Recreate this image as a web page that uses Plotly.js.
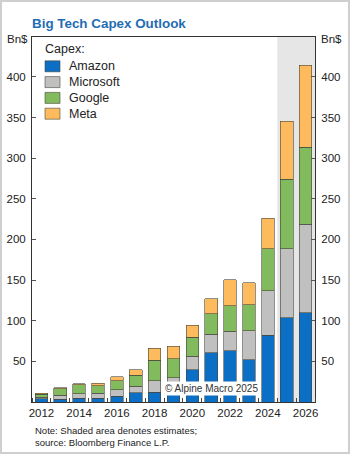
<!DOCTYPE html>
<html>
<head>
<meta charset="utf-8">
<script src="https://cdn.plot.ly/plotly-3.0.1.min.js"></script>
<style>
html,body{margin:0;padding:0;background:#fff;}
#wrap{position:relative;width:350px;height:454px;}
#chart{position:absolute;left:0;top:0;width:350px;height:454px;}
#frame{position:absolute;left:0;top:0;width:350px;height:454px;box-sizing:border-box;border:2px solid #cfcfcf;pointer-events:none;}
</style>
</head>
<body>
<div id="wrap"><div id="chart"></div><div id="frame"></div></div>
<script>
const years = [2012,2013,2014,2015,2016,2017,2018,2019,2020,2021,2022,2023,2024,2025,2026];
const amazon    = [3.8, 3.5, 4.9, 4.6, 7.0, 11.3, 12.3, 16.0, 39.5, 60.5, 63.0, 52.0, 82.3, 103.7, 109.5];
const microsoft = [2.3, 4.9, 5.1, 6.3, 8.2, 8.0, 14.0, 13.6, 16.9, 23.1, 24.3, 35.4, 54.7, 84.8, 109.0];
const google    = [3.6, 7.9, 11.1, 9.2, 11.1, 13.7, 25.2, 23.8, 23.0, 24.7, 30.8, 32.1, 51.5, 85.5, 94.7];
const meta      = [1.2, 1.1, 1.6, 3.2, 5.0, 6.9, 14.8, 15.3, 15.3, 18.5, 32.1, 27.1, 37.4, 71.6, 101.2];
const seriesNames = ['Amazon','Microsoft','Google','Meta'];
const seriesColors = ['#0b6fc6','#c0c0c0','#82ba5e','#fdbb5e'];
const xTickVals = [2012,2014,2016,2018,2020,2022,2024,2026];
const yTickVals = [50,100,150,200,250,300,350,400];
const estimateStart = 2024.5, estimateEnd = 2026.5;

const W = 350, H = 454, ML = 32, MR = 35, MT = 37, MB = 52;
const PW = W - ML - MR, PH = H - MT - MB;
const px2x = p => (p - ML) / PW;
const py2y = p => (H - MB - p) / PH;

const outline = 'rgba(70,70,60,0.75)';
const values = [amazon, microsoft, google, meta];
const traces = values.map((v,i)=>({
  type:'bar', x: years, y: v, name: seriesNames[i],
  marker:{color: seriesColors[i], line:{color:outline, width:0.8}},
  hoverinfo:'x+y+name', showlegend:false
}));
traces.push({type:'scatter', x:[years[0]], y:[0], yaxis:'y2', mode:'markers', marker:{opacity:0}, showlegend:false, hoverinfo:'skip'});

const txtFont = 'Arial, "Liberation Sans", sans-serif';

const legendShapes = [], legendAnns = [];
legendAnns.push({text:'Capex:', xref:'paper', yref:'paper', x:px2x(43), y:py2y(48.5), xanchor:'left', yanchor:'middle', showarrow:false, font:{family:txtFont, size:12.5, color:'#222'}});
seriesNames.forEach((n,i)=>{
  const top = 60.8 + i*15.8;
  legendShapes.push({type:'rect', xref:'paper', yref:'paper', x0:px2x(45), x1:px2x(60), y0:py2y(top+11), y1:py2y(top), fillcolor:seriesColors[i], line:{color:outline, width:0.8}, layer:'above'});
  legendAnns.push({text:n, xref:'paper', yref:'paper', x:px2x(66.5), y:py2y(top+5.5), xanchor:'left', yanchor:'middle', showarrow:false, font:{family:txtFont, size:12.5, color:'#222'}});
});

const layout = {
  width:W, height:H,
  margin:{l:ML, r:MR, t:MT, b:MB},
  paper_bgcolor:'#fff', plot_bgcolor:'rgba(0,0,0,0)',
  font:{family:txtFont, size:11.5, color:'#222'},
  barmode:'stack', bargap:0.33,
  showlegend:false,
  title:{
    text:'<b>Big Tech Capex Outlook</b>',
    font:{family:txtFont, size:13.4, color:'#1f6db3'},
    x:32/W, xanchor:'left', xref:'container',
    y:1-23/H, yanchor:'middle', yref:'container'
  },
  xaxis:{
    type:'linear', range:[2011.5, 2026.5], fixedrange:true,
    tickmode:'array', tickvals:xTickVals, ticktext:xTickVals.map(String),
    ticks:'', showgrid:false, zeroline:false,
    showline:true, linecolor:'#333', linewidth:1, mirror:true,
    tickfont:{size:11.5, color:'#222'},
    minor:{tick0:2011.5, dtick:1, ticks:'inside', ticklen:4, tickcolor:'#444', tickwidth:1, showgrid:false}
  },
  yaxis:{
    range:[0,449], fixedrange:true,
    tickmode:'array', tickvals:yTickVals, ticktext:yTickVals.map(String),
    ticks:'inside', ticklen:4, tickcolor:'#555', tickwidth:1,
    showgrid:false, zeroline:false,
    showline:true, linecolor:'#333', linewidth:1,
    tickfont:{size:11.5, color:'#222'}, ticklabelstandoff:3
  },
  yaxis2:{
    range:[0,449], fixedrange:true, overlaying:'y', side:'right',
    tickmode:'array', tickvals:yTickVals, ticktext:yTickVals.map(String),
    ticks:'inside', ticklen:4, tickcolor:'#555', tickwidth:1,
    showgrid:false, zeroline:false,
    showline:true, linecolor:'#333', linewidth:1,
    tickfont:{size:11.5, color:'#222'}, ticklabelstandoff:3
  },
  shapes:[{
    type:'rect', xref:'x', yref:'paper', x0:estimateStart, x1:estimateEnd, y0:0, y1:1,
    fillcolor:'#e6e6e6', line:{width:0}, layer:'below'
  }].concat(legendShapes),
  annotations:[
    {text:'Bn$', xref:'paper', yref:'paper', x:0, y:1, xanchor:'right', yanchor:'middle', xshift:-2, yshift:-2, showarrow:false, font:{size:11.5, color:'#222'}},
    {text:'Bn$', xref:'paper', yref:'paper', x:1, y:1, xanchor:'left', yanchor:'middle', xshift:4, yshift:-2, showarrow:false, font:{size:11.5, color:'#222'}},
    {text:'© Alpine Macro 2025', xref:'paper', yref:'paper', x:px2x(163), y:py2y(388), xanchor:'left', yanchor:'middle', showarrow:false, bgcolor:'#fff', borderpad:1, font:{size:10, color:'#333'}},
    {text:'Note: Shaded area denotes estimates;', xref:'paper', yref:'paper', x:0, y:py2y(430.5), xanchor:'left', yanchor:'middle', xshift:1, showarrow:false, font:{size:9.5, color:'#222'}},
    {text:'source: Bloomberg Finance L.P.', xref:'paper', yref:'paper', x:0, y:py2y(442.5), xanchor:'left', yanchor:'middle', xshift:1, showarrow:false, font:{size:9.5, color:'#222'}}
  ].concat(legendAnns)
};

Plotly.newPlot('chart', traces, layout, {displayModeBar:false, staticPlot:true});
</script>
</body>
</html>
